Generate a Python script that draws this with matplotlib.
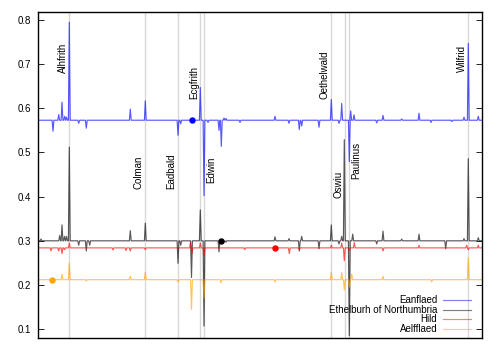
import matplotlib
matplotlib.use("Agg")
import matplotlib.pyplot as plt
import matplotlib.transforms as mtransforms

plt.rcParams['font.family'] = ['Liberation Sans', 'DejaVu Sans']

# ---- data (x = position along the sequence, y = value) ----
series_names = ["Eanflaed", "Ethelburh of Northumbria", "Hild", "Aelfflaed"]
series_colors = ["#0000ff", "#000000", "#ff0000", "#ffa500"]

eanflaed_base = 0.573
eanflaed_spike_x = [53, 58.7, 62, 64.7, 66.5, 69.3, 78.7, 86.3, 130.3, 145.3, 178, 180.7,
                    200.3, 204, 208, 219, 221.3, 224, 226, 240, 275, 289, 299.3, 301.7,
                    319, 331.3, 339, 341.7, 349.3, 350.7, 354, 376.7, 383, 401.7, 419,
                    431, 451.7, 464, 468.3, 478.3]
eanflaed_spike_y = [0.548, 0.586, 0.614, 0.582, 0.580, 0.795, 0.566, 0.555, 0.598, 0.617,
                    0.539, 0.565, 0.647, 0.402, 0.568, 0.550, 0.514, 0.578, 0.577, 0.568,
                    0.582, 0.566, 0.552, 0.560, 0.557, 0.620, 0.566, 0.611, 0.479, 0.594,
                    0.585, 0.567, 0.584, 0.576, 0.589, 0.568, 0.570, 0.580, 0.747, 0.582]

ethelburh_base = 0.300
ethelburh_spike_x = [41, 59.7, 62, 64.5, 66.5, 69.3, 78.7, 86.3, 89.7, 130.3, 145.3, 178,
                     180.7, 191.5, 200.3, 204, 219, 224, 226, 275, 289, 299.3, 301.7, 319,
                     331.3, 339, 341.7, 344.3, 349.3, 352.7, 376.7, 383, 401.7, 419, 445.7,
                     464, 468.3, 478.3]
ethelburh_spike_y = [0.304, 0.312, 0.336, 0.310, 0.310, 0.512, 0.290, 0.277, 0.290, 0.323,
                     0.340, 0.249, 0.290, 0.217, 0.370, 0.107, 0.275, 0.297, 0.297, 0.309,
                     0.305, 0.277, 0.310, 0.282, 0.336, 0.293, 0.310, 0.529, 0.085, 0.315,
                     0.293, 0.322, 0.304, 0.315, 0.282, 0.305, 0.486, 0.307]

hild_base = 0.284
hild_spike_x = [51, 58.7, 62, 64.5, 69.3, 113, 126, 130.3, 145.3, 190.5, 192, 200.3, 204,
                244.7, 289.3, 299.3, 331.3, 341.7, 344.3, 349.3, 354.3, 383, 419, 466.7,
                468.3, 478.3]
hild_spike_y = [0.277, 0.277, 0.271, 0.280, 0.295, 0.279, 0.278, 0.277, 0.280, 0.296, 0.272,
                0.295, 0.266, 0.280, 0.271, 0.280, 0.290, 0.295, 0.255, 0.278, 0.296, 0.277,
                0.290, 0.290, 0.280, 0.290]

aelfflaed_base = 0.212
aelfflaed_spike_x = [62, 69.3, 86.3, 130.3, 145.3, 178, 191.5, 204, 221, 275, 331.3, 341.7,
                     344.3, 349.3, 351.7, 383, 431.7, 468.3]
aelfflaed_spike_y = [0.224, 0.249, 0.209, 0.220, 0.229, 0.207, 0.145, 0.170, 0.205, 0.207,
                     0.229, 0.228, 0.189, 0.195, 0.225, 0.220, 0.207, 0.261]

dot_x = [191.7, 221.3, 275, 52.3]
dot_y = [0.573, 0.300, 0.284, 0.212]

event_names = ["Alhfrith", "Colman", "Eadbald", "Ecgfrith", "Edwin",
               "Oethelwald", "Oswiu", "Paulinus", "Wilfrid"]
event_x = [69.3, 145.3, 178, 200.3, 204, 331.3, 344.7, 349.3, 468.3]
event_label_y = [0.680, 0.418, 0.418, 0.620, 0.430, 0.620, 0.398, 0.441, 0.682]
event_label_side = ["left", "left", "left", "left", "right", "left", "left", "right", "left"]

X_START, X_END = 38, 482


def build_line(base, sx, sy, w=0.9):
    xs, ys = [X_START], [base]
    for x, y in zip(sx, sy):
        xs += [x - w, x, x + w]
        ys += [base, y, base]
    xs.append(X_END)
    ys.append(base)
    return xs, ys


fig = plt.figure(figsize=(5, 3.5), dpi=100)
ax = fig.add_axes([0.076, 0.0343, 0.888, 0.9314])

for ex in event_x:
    ax.axvline(ex, color="#d8d8d8", lw=1.0, zorder=1)

bases = [eanflaed_base, ethelburh_base, hild_base, aelfflaed_base]
spx = [eanflaed_spike_x, ethelburh_spike_x, hild_spike_x, aelfflaed_spike_x]
spy = [eanflaed_spike_y, ethelburh_spike_y, hild_spike_y, aelfflaed_spike_y]
for base, sx, sy, c in zip(bases, spx, spy, series_colors):
    xs, ys = build_line(base, sx, sy)
    ax.plot(xs, ys, color=c, lw=0.85, alpha=0.65, zorder=2)

for x, y, c in zip(dot_x, dot_y, series_colors):
    ax.plot([x], [y], 'o', color=c, ms=3.6, zorder=3)

for name, x, y, side in zip(event_names, event_x, event_label_y, event_label_side):
    dx = -1.0 if side == "left" else 1.5
    off = mtransforms.offset_copy(ax.transData, fig=fig, x=dx, y=0, units='points')
    ax.text(x, y, name, rotation=90, ha="right" if side == "left" else "left",
            va="bottom", fontsize=7, transform=off, zorder=4)

ax.set_xlim(X_START, X_END)
ax.set_ylim(0.08, 0.818)
ax.set_yticks([0.1, 0.2, 0.3, 0.4, 0.5, 0.6, 0.7, 0.8])
ax.set_xticks([])
ax.tick_params(axis='y', direction='in', length=4, width=0.6, labelsize=7, pad=5,
               right=True)
for s in ax.spines.values():
    s.set_linewidth(1.0)

# legend drawn manually (right-aligned labels, sample line on the right)
leg_y = [0.1166, 0.0859, 0.0583, 0.0276]
for name, c, y in zip(series_names, series_colors, leg_y):
    ax.text(0.899, y, name, transform=ax.transAxes, ha="right", va="center", fontsize=7)
    ax.plot([0.912, 0.975], [y, y], transform=ax.transAxes, color=c, lw=0.85, alpha=0.5)

fig.savefig("out.png", dpi=100)
